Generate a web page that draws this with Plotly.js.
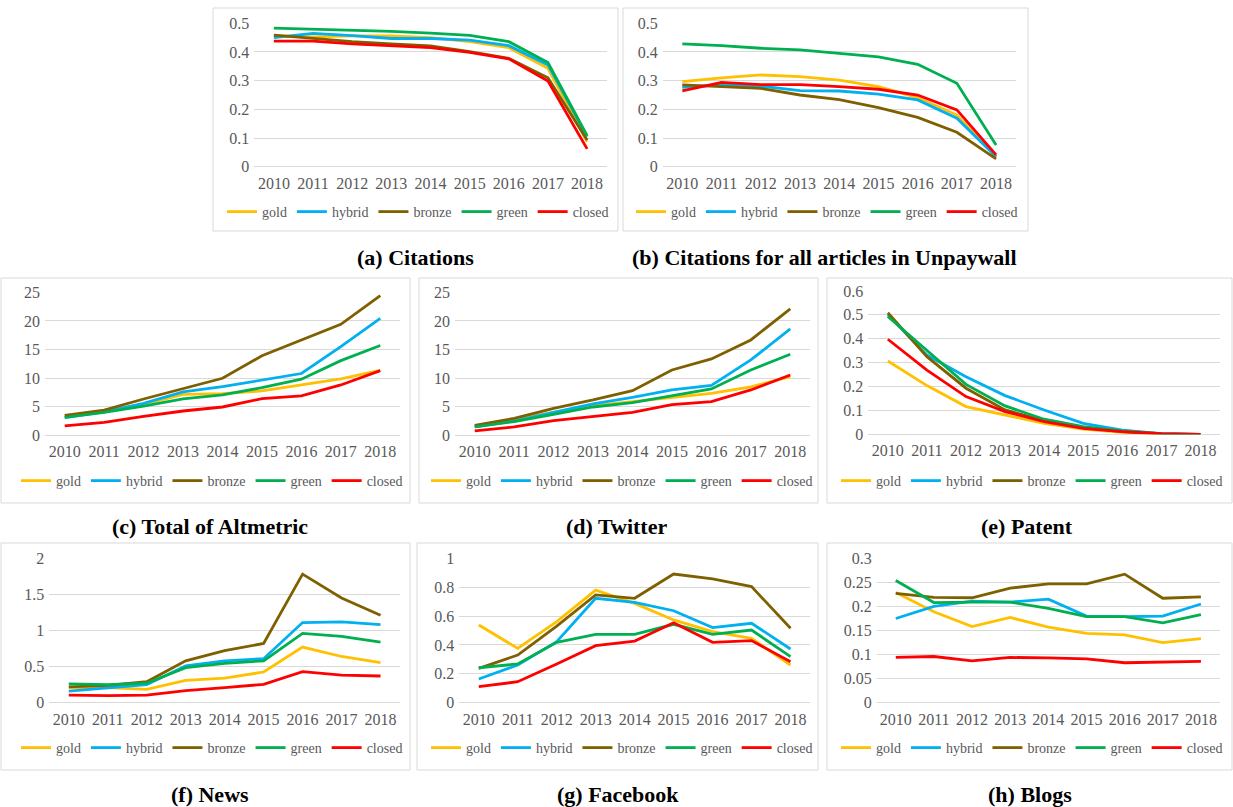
<!DOCTYPE html>
<html>
<head>
<meta charset="utf-8">
<script src="https://cdn.plot.ly/plotly-3.0.1.min.js"></script>
<style>
html,body{margin:0;padding:0;background:#fff;}
#chart{width:1233px;height:807px;}
</style>
</head>
<body>
<div id="chart"></div>
<script>
// ---------- DATA ----------
const years = ['2010','2011','2012','2013','2014','2015','2016','2017','2018'];
const seriesNames = ['gold','hybrid','bronze','green','closed'];

// (a) Citations
const aGold   = [0.457,0.453,0.456,0.456,0.450,0.436,0.415,0.343,0.087];
const aHybrid = [0.450,0.465,0.457,0.447,0.447,0.441,0.422,0.355,0.105];
const aBronze = [0.459,0.448,0.436,0.428,0.421,0.401,0.378,0.310,0.093];
const aGreen  = [0.483,0.480,0.477,0.472,0.466,0.458,0.436,0.363,0.108];
const aClosed = [0.438,0.438,0.428,0.422,0.415,0.399,0.376,0.299,0.062];

// (b) Citations for all articles in Unpaywall
const bGold   = [0.297,0.310,0.320,0.314,0.302,0.279,0.241,0.180,0.035];
const bHybrid = [0.277,0.285,0.281,0.265,0.264,0.253,0.233,0.169,0.035];
const bBronze = [0.285,0.278,0.273,0.250,0.234,0.206,0.172,0.120,0.027];
const bGreen  = [0.428,0.422,0.413,0.407,0.395,0.383,0.357,0.291,0.076];
const bClosed = [0.264,0.294,0.286,0.286,0.279,0.270,0.250,0.198,0.041];

// (c) Total of Altmetric
const cGold   = [3.38,4.25,5.4,7.17,7.3,7.75,8.8,9.85,11.36];
const cHybrid = [3.1,4.1,5.6,7.6,8.5,9.7,10.8,15.5,20.45];
const cBronze = [3.5,4.4,6.35,8.2,9.97,13.9,16.7,19.4,24.4];
const cGreen  = [3.15,4.0,5.1,6.35,7.05,8.33,9.8,13.05,15.7];
const cClosed = [1.63,2.27,3.32,4.25,4.95,6.4,6.88,8.8,11.3];

// (d) Twitter
const dGold   = [1.63,2.86,4.08,5.19,5.89,6.59,7.34,8.45,10.26];
const dHybrid = [1.46,2.5,4.0,5.48,6.64,7.93,8.74,13.17,18.6];
const dBronze = [1.75,2.97,4.72,6.18,7.8,11.42,13.35,16.67,22.1];
const dGreen  = [1.46,2.39,3.67,4.95,5.71,6.93,8.1,11.42,14.16];
const dClosed = [0.76,1.46,2.56,3.26,4.02,5.36,5.89,7.93,10.55];

// (e) Patent
const eGold   = [0.307,0.204,0.116,0.081,0.046,0.022,0.008,0.001,0];
const eHybrid = [0.500,0.332,0.241,0.162,0.102,0.046,0.017,0.003,0];
const eBronze = [0.509,0.325,0.193,0.102,0.057,0.028,0.011,0.001,0];
const eGreen  = [0.493,0.352,0.209,0.119,0.063,0.032,0.014,0.003,0];
const eClosed = [0.398,0.269,0.158,0.095,0.053,0.025,0.011,0.003,0];

// (f) News
const fGold   = [0.21,0.21,0.185,0.31,0.34,0.425,0.77,0.64,0.555];
const fHybrid = [0.16,0.21,0.25,0.51,0.58,0.61,1.11,1.12,1.08];
const fBronze = [0.22,0.24,0.29,0.58,0.72,0.82,1.78,1.45,1.21];
const fGreen  = [0.26,0.25,0.27,0.485,0.545,0.58,0.96,0.92,0.84];
const fClosed = [0.106,0.097,0.106,0.166,0.208,0.254,0.43,0.383,0.37];

// (g) Facebook
const gGold   = [0.538,0.376,0.561,0.78,0.688,0.573,0.492,0.446,0.261];
const gHybrid = [0.164,0.261,0.423,0.723,0.695,0.637,0.52,0.55,0.372];
const gBronze = [0.238,0.33,0.531,0.746,0.723,0.891,0.857,0.804,0.515];
const gGreen  = [0.242,0.268,0.418,0.473,0.473,0.543,0.473,0.503,0.319];
const gClosed = [0.111,0.145,0.268,0.395,0.427,0.554,0.418,0.43,0.284];

// (h) Blogs
const hGold   = [0.229,0.189,0.158,0.177,0.157,0.144,0.141,0.125,0.133];
const hHybrid = [0.175,0.2,0.211,0.209,0.215,0.18,0.179,0.18,0.205];
const hBronze = [0.227,0.219,0.218,0.238,0.247,0.247,0.267,0.217,0.22];
const hGreen  = [0.254,0.208,0.209,0.209,0.196,0.179,0.179,0.166,0.183];
const hClosed = [0.094,0.096,0.087,0.094,0.093,0.091,0.083,0.084,0.086];

const captions = ['(a) Citations','(b) Citations for all articles in Unpaywall','(c) Total of Altmetric','(d) Twitter','(e) Patent','(f) News','(g) Facebook','(h) Blogs'];

// ---------- LAYOUT CONFIG ----------
const W = 1233, H = 807;
const colors = ['#FFC000','#00B0F0','#7F6000','#00B050','#FF0000'];
const px = x => x / W;
const py = y => 1 - y / H;
const SERIF = 'Liberation Serif, Times New Roman, serif';

const panels = [
  {data:[aGold,aHybrid,aBronze,aGreen,aClosed], plot:[254.3,23.3,606.7,166.7], box:[213,8,618,231], leg:[418,212], cap:[415,258], yr:[0,0.5], dt:0.1},
  {data:[bGold,bHybrid,bBronze,bGreen,bClosed], plot:[662.7,23.3,1015.7,166.7], box:[623,8,1028,231], leg:[827,212], cap:[824,258], yr:[0,0.5], dt:0.1},
  {data:[cGold,cHybrid,cBronze,cGreen,cClosed], plot:[45,292.3,400,435.3], box:[1,278,410,503], leg:[212,481], cap:[210,526], yr:[0,25], dt:5},
  {data:[dGold,dHybrid,dBronze,dGreen,dClosed], plot:[455,292.3,810,435.3], box:[419,278,818,503], leg:[622,481], cap:[616,526], yr:[0,25], dt:5},
  {data:[eGold,eHybrid,eBronze,eGreen,eClosed], plot:[868.3,291,1220,434.3], box:[827,278,1232,503], leg:[1032,481], cap:[1027,526], yr:[0,0.6], dt:0.1},
  {data:[fGold,fHybrid,fBronze,fGreen,fClosed], plot:[49.3,558.3,400,702.7], box:[1,543,410,770], leg:[212,748], cap:[210,794], yr:[0,2], dt:0.5},
  {data:[gGold,gHybrid,gBronze,gGreen,gClosed], plot:[459.3,558.3,810,702.7], box:[417,543,818,770], leg:[622,748], cap:[618,794], yr:[0,1], dt:0.2},
  {data:[hGold,hHybrid,hBronze,hGreen,hClosed], plot:[876.7,558.3,1220,702.7], box:[827,543,1232,770], leg:[1032,748], cap:[1030,794], yr:[0,0.3], dt:0.05}
];

const tickFont = {family: SERIF, size:16, color:'#595959'};
const traces = [];
const layout = {
  width: W, height: H,
  margin: {l:0, r:0, t:0, b:0},
  paper_bgcolor: '#ffffff',
  plot_bgcolor: 'rgba(0,0,0,0)',
  font: {family: SERIF},
  shapes: [], annotations: []
};

panels.forEach((p, i) => {
  const n = i + 1;
  const sfx = n === 1 ? '' : String(n);
  const legKey = 'legend' + sfx;
  p.data.forEach((vals, k) => {
    traces.push({
      type: 'scatter', mode: 'lines',
      x: years, y: vals,
      name: seriesNames[k],
      line: {color: colors[k], width: 2.8},
      xaxis: 'x' + sfx, yaxis: 'y' + sfx,
      legend: legKey,
      showlegend: true,
      hoverinfo: 'skip'
    });
  });
  layout['xaxis' + sfx] = {
    type: 'category',
    domain: [px(p.plot[0]), px(p.plot[2])],
    range: [-0.5, 8.5],
    anchor: 'y' + sfx,
    showgrid: false, zeroline: false, showline: false,
    ticks: '', tickfont: tickFont,
    ticklabelstandoff: 5,
    fixedrange: true
  };
  layout['yaxis' + sfx] = {
    domain: [py(p.plot[3]), py(p.plot[1])],
    range: p.yr,
    dtick: p.dt, tick0: 0,
    anchor: 'x' + sfx,
    showgrid: true, gridcolor: '#D9D9D9', gridwidth: 1,
    zeroline: true, zerolinecolor: '#D9D9D9', zerolinewidth: 1,
    showline: false, ticks: '', tickfont: tickFont,
    ticklabelstandoff: 4,
    fixedrange: true
  };
  layout[legKey] = {
    orientation: 'h',
    x: px(p.leg[0]), xanchor: 'center',
    y: py(p.leg[1]), yanchor: 'middle',
    xref: 'paper', yref: 'paper',
    font: {family: SERIF, size:14, color:'#595959'},
    bgcolor: 'rgba(0,0,0,0)',
    itemwidth: 30,
    tracegroupgap: 0
  };
  layout.shapes.push({
    type: 'rect', xref: 'paper', yref: 'paper',
    x0: px(p.box[0]), x1: px(p.box[2]), y0: py(p.box[3]), y1: py(p.box[1]),
    line: {color: '#D9D9D9', width: 1}, fillcolor: 'rgba(0,0,0,0)', layer: 'below'
  });
  layout.annotations.push({
    xref: 'paper', yref: 'paper',
    x: px(p.cap[0]), y: py(p.cap[1]),
    xanchor: 'center', yanchor: 'middle',
    showarrow: false,
    text: '<b>' + captions[i] + '</b>',
    font: {family: SERIF, size:22, color:'#000000'}
  });
});

Plotly.newPlot('chart', traces, layout, {displayModeBar: false, staticPlot: true});
</script>
</body>
</html>
